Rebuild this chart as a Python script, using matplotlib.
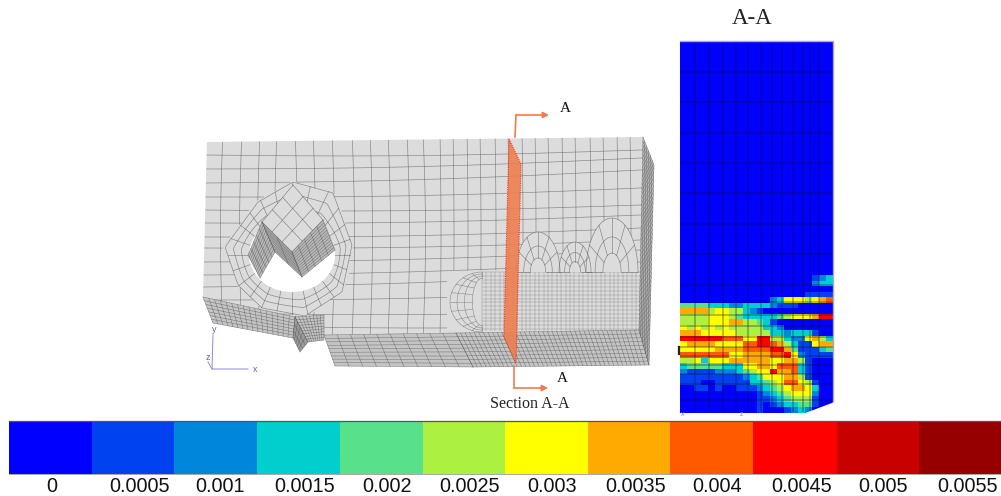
import numpy as np
import matplotlib
matplotlib.use('Agg')
import matplotlib.pyplot as plt
from matplotlib.colors import ListedColormap, BoundaryNorm
from matplotlib.path import Path

plt.rcParams['font.family'] = ['Liberation Sans', 'DejaVu Sans']

# colour scale
level_colors = ['#0000ff', '#0041f0', '#0087dc', '#00cfce', '#58e08b', '#acf040',
                '#ffff00', '#ffaa00', '#ff5a00', '#ff0000', '#c80000', '#960000']
level_labels = ['0', '0.0005', '0.001', '0.0015', '0.002', '0.0025',
                '0.003', '0.0035', '0.004', '0.0045', '0.005', '0.0055']
label_x = [52, 139, 220, 305, 387, 470, 552, 636, 717, 802, 883, 967]
bar_edges = [9, 92, 174, 257, 340, 423, 505, 588, 670, 753, 837, 919, 1001]

# section A-A, one hex digit per cell = level index, rows from y=275 down
level_rows = [
    '0000000000000000000123',
    '0000000000000000000233',
    '0000000000000000000000',
    '0000000000000000001111',
    '0000000000000236665678',
    '4444333223333211100000',
    '7777566553210000000000',
    '5555666543333345666799',
    '5555666775543100000000',
    '6565656555553320000000',
    '7776666655555332333100',
    '9999998886699553226753',
    '6777766668899875311677',
    '6666677778888997411134',
    '8888888667777889621111',
    '5563666777777667751000',
    '3444443336677688831000',
    '2111122234566977831000',
    '1111111112346667751000',
    '1110011111334568865100',
    '0011010011123456776300',
    '0000000000012345666200',
    '0000000000011234555100',
    '0000000000010123344100',
    '0000000000010001232000',
]
cell_width = 153 / 22
cell_height = 5.5

# section mesh lines
sec_x = [695, 709, 723, 736, 748, 761, 772, 782, 793, 803, 810, 819]
sec_y = [72, 102, 133, 163, 193, 224, 254, 285, 302, 315, 326, 337, 347, 356, 365, 374, 384, 400]

# part outline (image pixels)
face = [(207, 142), (643, 137), (639, 330), (324, 335), (324, 315), (295, 317), (203, 297)]
side_face = [(643, 137), (654, 165), (649, 365), (639, 330)]
band_a = [(324, 335), (456, 333), (473, 367), (335, 366)]
band_b = [(456, 333), (639, 330), (649, 365), (473, 367)]
chamfer = [(203, 297), (295, 317), (293, 338), (213, 323)]
notch = [(295, 317), (324, 315), (324, 340), (308, 342)]
notch_tip = [(293, 338), (295, 317), (308, 342), (300, 352)]
tongue = [(292, 252), (323, 220), (293, 185), (262, 222)]
wall_r = [(292, 252), (323, 220), (335, 250), (302, 277)]
wall_l2 = [(262, 222), (292, 252), (302, 277), (275, 252)]
wall_l3 = [(262, 222), (275, 252), (260, 278), (248, 255)]
hole_c = (292, 255)
hole_r = (43, 37)
ring_outer = [(293, 182), (333, 193), (352, 245), (342, 292), (305, 316), (262, 308), (238, 285), (225, 247), (258, 202)]
section_cut = [(509, 139), (521, 164), (516, 363), (504, 337)]

# face mesh rows / columns
col_x = [223, 242, 260, 277, 295, 313, 332, 352, 370, 388, 407, 423, 440, 453, 467, 480, 495,
         508, 522, 535, 548, 562, 575, 590, 603, 617, 630]
row_left = [155, 169, 183, 197, 210, 223, 237, 248, 262, 275, 287, 300, 313, 325]
row_right = [150, 158, 170, 188, 205, 215, 228, 240, 250, 262, 272, 290, 310, 325]
arc_fans = [(538, 272, 22, 40), (575, 272, 16, 30), (612, 272, 26, 54)]
arc_rings = [0.35, 0.65, 1.0]

mesh_col = '#555555'

fig = plt.figure(figsize=(10.01, 4.96), dpi=100)
ax = fig.add_axes([0, 0, 1, 1])
ax.set_xlim(0, 1001)
ax.set_ylim(496, 0)
ax.axis('off')


def quad_mesh(q, nu, nv, lw=0.35, alpha=0.75, z=3):
    q = np.array(q, float)
    for t in np.linspace(0, 1, nu + 1):
        a = q[0] + (q[1] - q[0]) * t
        b = q[3] + (q[2] - q[3]) * t
        ax.plot([a[0], b[0]], [a[1], b[1]], color=mesh_col, lw=lw, alpha=alpha, zorder=z)
    for t in np.linspace(0, 1, nv + 1):
        a = q[0] + (q[3] - q[0]) * t
        b = q[1] + (q[2] - q[1]) * t
        ax.plot([a[0], b[0]], [a[1], b[1]], color=mesh_col, lw=lw, alpha=alpha, zorder=z)


def ring_hit(d):
    # where a ray from the hole centre meets the outer ring
    c = np.array(hole_c, float)
    ring = np.array(ring_outer + [ring_outer[0]], float)
    best = c
    for a, b in zip(ring[:-1], ring[1:]):
        m = np.array([[d[0], a[0] - b[0]], [d[1], a[1] - b[1]]])
        if abs(np.linalg.det(m)) < 1e-6:
            continue
        s, u = np.linalg.solve(m, a - c)
        if s > 0 and 0 <= u <= 1:
            best = c + d * s
    return best


# part surfaces
face_patch = ax.fill(*zip(*face), color='#dcdcdc', lw=0, zorder=1)[0]
for poly in [side_face, band_a, band_b, chamfer, notch]:
    ax.fill(*zip(*poly), color='#c4c4c4', lw=0, zorder=1)
ax.fill(*zip(*notch_tip), color='#9a9a9a', lw=0, zorder=1)

# masks for the zones that have their own mesh
ring_path = Path(ring_outer + [ring_outer[0]])
fine_path = Path([(450, 272), (640, 272), (640, 331), (450, 331), (450, 272)])

# coarse mesh on the face
for x0 in col_x:
    ys = np.linspace(130, 340, 70)
    xs = x0 + 2.5 * np.sin((ys - 130) / 210 * np.pi) * np.sign(x0 - 292) * (1 if x0 < 440 else 0.4)
    pts = np.column_stack([xs, ys])
    bad = ring_path.contains_points(pts) | fine_path.contains_points(pts)
    ln = ax.plot(np.where(bad, np.nan, xs), ys, color=mesh_col, lw=0.5, alpha=0.6, zorder=2)[0]
    ln.set_clip_path(face_patch)
for yl, yr in zip(row_left, row_right):
    xs = np.linspace(200, 645, 120)
    ys = yl + (yr - yl) * (xs - 205) / 435 + 3 * np.sin((xs - 205) / 435 * np.pi)
    pts = np.column_stack([xs, ys])
    bad = ring_path.contains_points(pts) | fine_path.contains_points(pts)
    ln = ax.plot(np.where(bad, np.nan, xs), ys, color=mesh_col, lw=0.5, alpha=0.6, zorder=2)[0]
    ln.set_clip_path(face_patch)

# rings round the hole
angs = np.linspace(0, 2 * np.pi, 121)
dirs = np.column_stack([np.cos(angs), np.sin(angs)])
inner = np.array(hole_c) + np.array(hole_r) * dirs
outer = np.array([ring_hit(d) for d in dirs])
for frac in [0.33, 0.66, 1]:
    rim = inner + (outer - inner) * frac
    ln = ax.plot(rim[:, 0], rim[:, 1], color=mesh_col, lw=0.5, alpha=0.6, zorder=2)[0]
    ln.set_clip_path(face_patch)
for k in range(0, 120, 5):
    ln = ax.plot([inner[k, 0], outer[k, 0]], [inner[k, 1], outer[k, 1]], color=mesh_col, lw=0.5, alpha=0.6, zorder=2)[0]
    ln.set_clip_path(face_patch)

# hole: white ellipse, V shaped tongue and its walls on top
ax.fill(inner[:, 0], inner[:, 1], color='white', lw=0, zorder=2.5)
ax.fill(*zip(*tongue), color='#dcdcdc', lw=0, zorder=2.6)
quad_mesh(tongue, 3, 3, lw=0.5, alpha=0.6, z=2.7)
for poly in [wall_r, wall_l2, wall_l3]:
    ax.fill(*zip(*poly), color='#b8b8b8', lw=0, zorder=2.8)
quad_mesh(wall_r, 5, 12)
quad_mesh(wall_l3, 10, 5)
quad_mesh(wall_l2, 2, 10)

# fine mesh zone and arc fans
fine_x = np.arange(482, 640, 4.4)
fine_y = np.arange(272, 331, 3.8)
ax.vlines(fine_x, 272, 331, color=mesh_col, lw=0.3, alpha=0.6, zorder=2)
ax.hlines(fine_y, 482, 640, color=mesh_col, lw=0.3, alpha=0.6, zorder=2)
half = np.linspace(np.pi * 0.5, np.pi * 1.5, 40)
for f in [0.3, 0.55, 0.78, 1.0]:
    ax.plot(482 + 32 * f * np.cos(half), 302 + 30 * (0.7 + 0.3 * f) * np.sin(half),
            color=mesh_col, lw=0.4, alpha=0.6, zorder=2.2)
for a in np.linspace(np.pi * 0.5, np.pi * 1.5, 11):
    ax.plot([482 + 10 * np.cos(a), 482 + 32 * np.cos(a)], [302 + 24 * np.sin(a), 302 + 30 * np.sin(a)],
            color=mesh_col, lw=0.4, alpha=0.6, zorder=2.2)
top_half = np.linspace(np.pi, 2 * np.pi, 30)
for cx, cy, rx, ry in arc_fans:
    ax.fill(cx + rx * np.cos(top_half), cy + ry * np.sin(top_half), color='#dcdcdc', lw=0, zorder=2.1)
    for f in arc_rings:
        ax.plot(cx + rx * f * np.cos(top_half), cy + ry * f * np.sin(top_half),
                color=mesh_col, lw=0.5, alpha=0.6, zorder=2.2)
    for a in np.linspace(np.pi, 2 * np.pi, 7):
        ax.plot([cx + rx * 0.35 * np.cos(a), cx + rx * np.cos(a)],
                [cy + ry * 0.35 * np.sin(a), cy + ry * np.sin(a)], color=mesh_col, lw=0.5, alpha=0.6, zorder=2.2)

# meshed bands
quad_mesh(side_face, 6, 46)
quad_mesh(band_a, 10, 9)
quad_mesh(band_b, 40, 9)
quad_mesh(chamfer, 16, 7)
quad_mesh(notch, 8, 9)
quad_mesh(notch_tip, 3, 5)

# cut plane and arrows
ax.fill(*zip(*section_cut), facecolor='#ee7e50', edgecolor='#f0331a', lw=0.8, ls=(0, (1, 1)), alpha=0.9, zorder=4)
arrow_col = '#f47a4c'
for path, head in [([(515, 137), (516, 115)], ((516, 115), (549, 115))),
                   ([(514, 366), (514, 388)], ((514, 388), (548, 388)))]:
    ax.plot(*zip(*path), color=arrow_col, lw=1.2, zorder=5)
    ax.annotate('', xy=head[1], xytext=head[0], zorder=5,
                arrowprops=dict(arrowstyle='-|>,head_width=0.18,head_length=0.35', color=arrow_col, lw=1.2,
                                shrinkA=0, shrinkB=0))

serif = ['Liberation Serif', 'DejaVu Serif']
ax.text(565, 109, 'A', family=serif, fontsize=11, ha='center', va='center', color='#111111')
ax.text(562, 378, 'A', family=serif, fontsize=11, ha='center', va='center', color='#111111')
ax.text(530, 404, 'Section A-A', family=serif, fontsize=11.5, ha='center', va='center', color='#222222')
ax.text(752, 19, 'A-A', family=serif, fontsize=16.5, ha='center', va='center', color='#222222')

# axis triad
triad_col = '#8a8ad8'
ax.plot([213, 212, 248], [335, 369, 369], color=triad_col, lw=0.7)
ax.plot([208, 212], [362, 369], color=triad_col, lw=0.7)
ax.text(214, 329, 'y', fontsize=6.5, color='#6060c8', ha='center', va='center')
ax.text(208, 357, 'z', fontsize=6.5, color='#6060c8', ha='center', va='center')
ax.text(255, 369, 'x', fontsize=6.5, color='#6060c8', ha='center', va='center')

# section A-A contour
cmap = ListedColormap(level_colors)
norm = BoundaryNorm(np.arange(13) - 0.5, 12)
grid = np.array([[int(ch, 16) for ch in row] for row in level_rows])
ax.fill([680, 833, 833, 680], [41, 41, 276, 276], color=level_colors[0], lw=0, zorder=1)
ax.pcolormesh(680 + cell_width * np.arange(23), 275 + cell_height * np.arange(26), grid,
              cmap=cmap, norm=norm, shading='flat', zorder=1.5)
sec_v = ax.vlines(sec_x, 41, 412, color='#101040', lw=0.8, alpha=0.5, zorder=2)
sec_h = ax.hlines(sec_y, 680, 833, color='#101040', lw=0.8, alpha=0.5, zorder=2)
sec_v.set_snap(False)
sec_h.set_snap(False)
ax.plot([680, 833, 833], [41, 41, 402], color='#a8a8c0', lw=1, zorder=2.5)
ax.fill([804, 834.5, 834.5, 804], [413.5, 402, 413.5, 413.5], color='white', lw=0, zorder=3)
ax.plot([679, 679], [347, 354], color='#222222', lw=1.6, zorder=3)
ax.text(683, 414, 'x', fontsize=5, color='#8080c0', ha='center', va='center')
ax.text(741, 414, 'z', fontsize=5, color='#8080c0', ha='center', va='center')

# colour bar
ax.pcolormesh(bar_edges, [421, 474], np.arange(12).reshape(1, 12), cmap=cmap, norm=norm, shading='flat')
ax.plot([9, 1001], [421, 421], color='#555555', lw=0.9)
ax.plot([9, 1001], [474, 474], color='#9a9a9a', lw=0.6)
for x, lab in zip(label_x, level_labels):
    ax.text(x, 487, lab, fontsize=14.3, ha='center', va='center', color='#111111')

fig.savefig('out.png', dpi=100)
